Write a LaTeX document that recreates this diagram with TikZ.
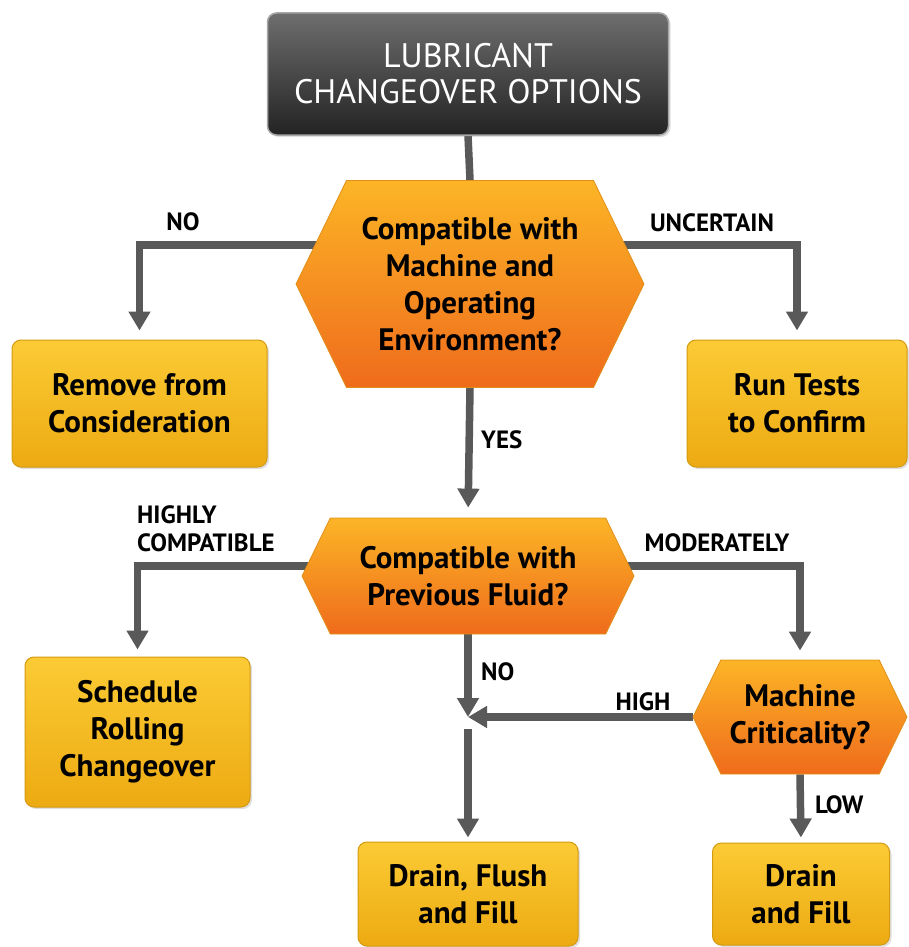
\documentclass[tikz,border=0pt]{standalone}
\usepackage{fontspec}
\setmainfont{PT Sans}
\usetikzlibrary{arrows.meta,shapes.symbols,shadows,backgrounds}
\definecolor{conncol}{HTML}{595959}
\definecolor{boxtop}{HTML}{FBCB35}
\definecolor{boxbot}{HTML}{EDAA12}
\definecolor{boxedge}{HTML}{D49A12}
\definecolor{hextop}{HTML}{FCB526}
\definecolor{hexbot}{HTML}{EF6B1C}
\definecolor{hexedge}{HTML}{E0901A}
\definecolor{darktop}{HTML}{6E6E6E}
\definecolor{darkbot}{HTML}{232323}
\begin{document}
\begin{tikzpicture}[x=1pt,y=-1pt,
  box/.style={rounded corners=9pt, top color=boxtop, bottom color=boxbot, draw=boxedge, line width=1pt,
    align=center, inner sep=0pt, font=\fontsize{31}{37}\selectfont\bfseries, text=black,
    drop shadow={opacity=0.25, shadow xshift=2pt, shadow yshift=-2pt}},
  hexa/.style={signal, signal to=east and west, signal pointer angle=128, top color=hextop, bottom color=hexbot,
    draw=hexedge, line width=0.8pt, align=center, inner sep=0pt, font=\fontsize{31}{37}\selectfont\bfseries, text=black},
  titlebox/.style={rounded corners=9pt, top color=darktop, bottom color=darkbot, draw=gray!70, line width=1.5pt,
    align=center, inner sep=0pt, font=\fontsize{34}{36}\selectfont, text=white,
    drop shadow={opacity=0.25, shadow xshift=2pt, shadow yshift=-2pt}},
  conn/.style={draw=conncol, line width=7.5pt, -{Triangle[width=21pt,length=19pt]}},
  plain/.style={draw=conncol, line width=7.5pt},
  lbl/.style={font=\fontsize{25}{28}\selectfont\bfseries, text=black, inner sep=0pt}
]
\useasboundingbox (0,0) rectangle (909,947);

% nodes
\node[titlebox, minimum width=401pt, minimum height=122pt] (title) at (468,74) {LUBRICANT\\CHANGEOVER OPTIONS};
\node[hexa, minimum width=348pt, minimum height=207pt] (hex1) at (470,284) {Compatible with\\Machine and\\Operating\\Environment?};
\node[box, minimum width=255pt, minimum height=127pt] (remove) at (139.5,403.5) {Remove from\\Consideration};
\node[box, minimum width=220pt, minimum height=127pt] (tests) at (797,403.5) {Run Tests\\to Confirm};
\node[hexa, minimum width=332pt, minimum height=116pt] (hex2) at (468,576) {Compatible with\\Previous Fluid?};
\node[box, minimum width=225pt, minimum height=150pt] (sched) at (137.5,732) {Schedule\\Rolling\\Changeover};
\node[hexa, minimum width=214pt, minimum height=114pt] (hex3) at (800,717) {Machine\\Criticality?};
\node[box, minimum width=220pt, minimum height=104pt] (dff) at (468,894) {Drain, Flush\\and Fill};
\node[box, minimum width=177pt, minimum height=102pt] (df) at (801,894) {Drain\\and Fill};

\coordinate (j) at (hex2.south |- hex3.west);

% labels
\node[lbl] (lno) at (183,222) {NO};
\node[lbl] (lunc) at (712,223) {UNCERTAIN};
\node[lbl, anchor=west] (lyes) at (481,440) {YES};
\node[lbl, align=left, anchor=west] (lhc) at (137,529) {HIGHLY\\COMPATIBLE};
\node[lbl] (lmod) at (717,543) {MODERATELY};
\node[lbl, anchor=west] (lno2) at (481,672) {NO};
\node[lbl] (lhigh) at (643,702) {HIGH};
\node[lbl, anchor=west] (llow) at (815,805) {LOW};

% connectors
\begin{scope}[on background layer]
\draw[plain] (title.south) -- (hex1.north);
\draw[conn, shorten >=9pt] ([yshift=39pt]hex1.center) -| (remove.north);
\draw[conn, shorten >=9pt] ([yshift=39pt]hex1.center) -| (tests.north);
\draw[conn, shorten >=10pt] (hex1.south) -- (hex2.north);
\draw[conn, shorten >=7pt] ([yshift=10pt]hex2.center) -| (sched.north);
\draw[conn, shorten >=9pt] ([yshift=10pt]hex2.center) -| (hex3.north);
\draw[conn] (hex2.south) -- (j);
\draw[conn] (hex3.west) -- (j);
\draw[conn, shorten >=4pt] ([yshift=-12pt]j) -- (dff.north);
\draw[conn, shorten >=5pt] (hex3.south) -- (df.north);
\end{scope}
\end{tikzpicture}
\end{document}
